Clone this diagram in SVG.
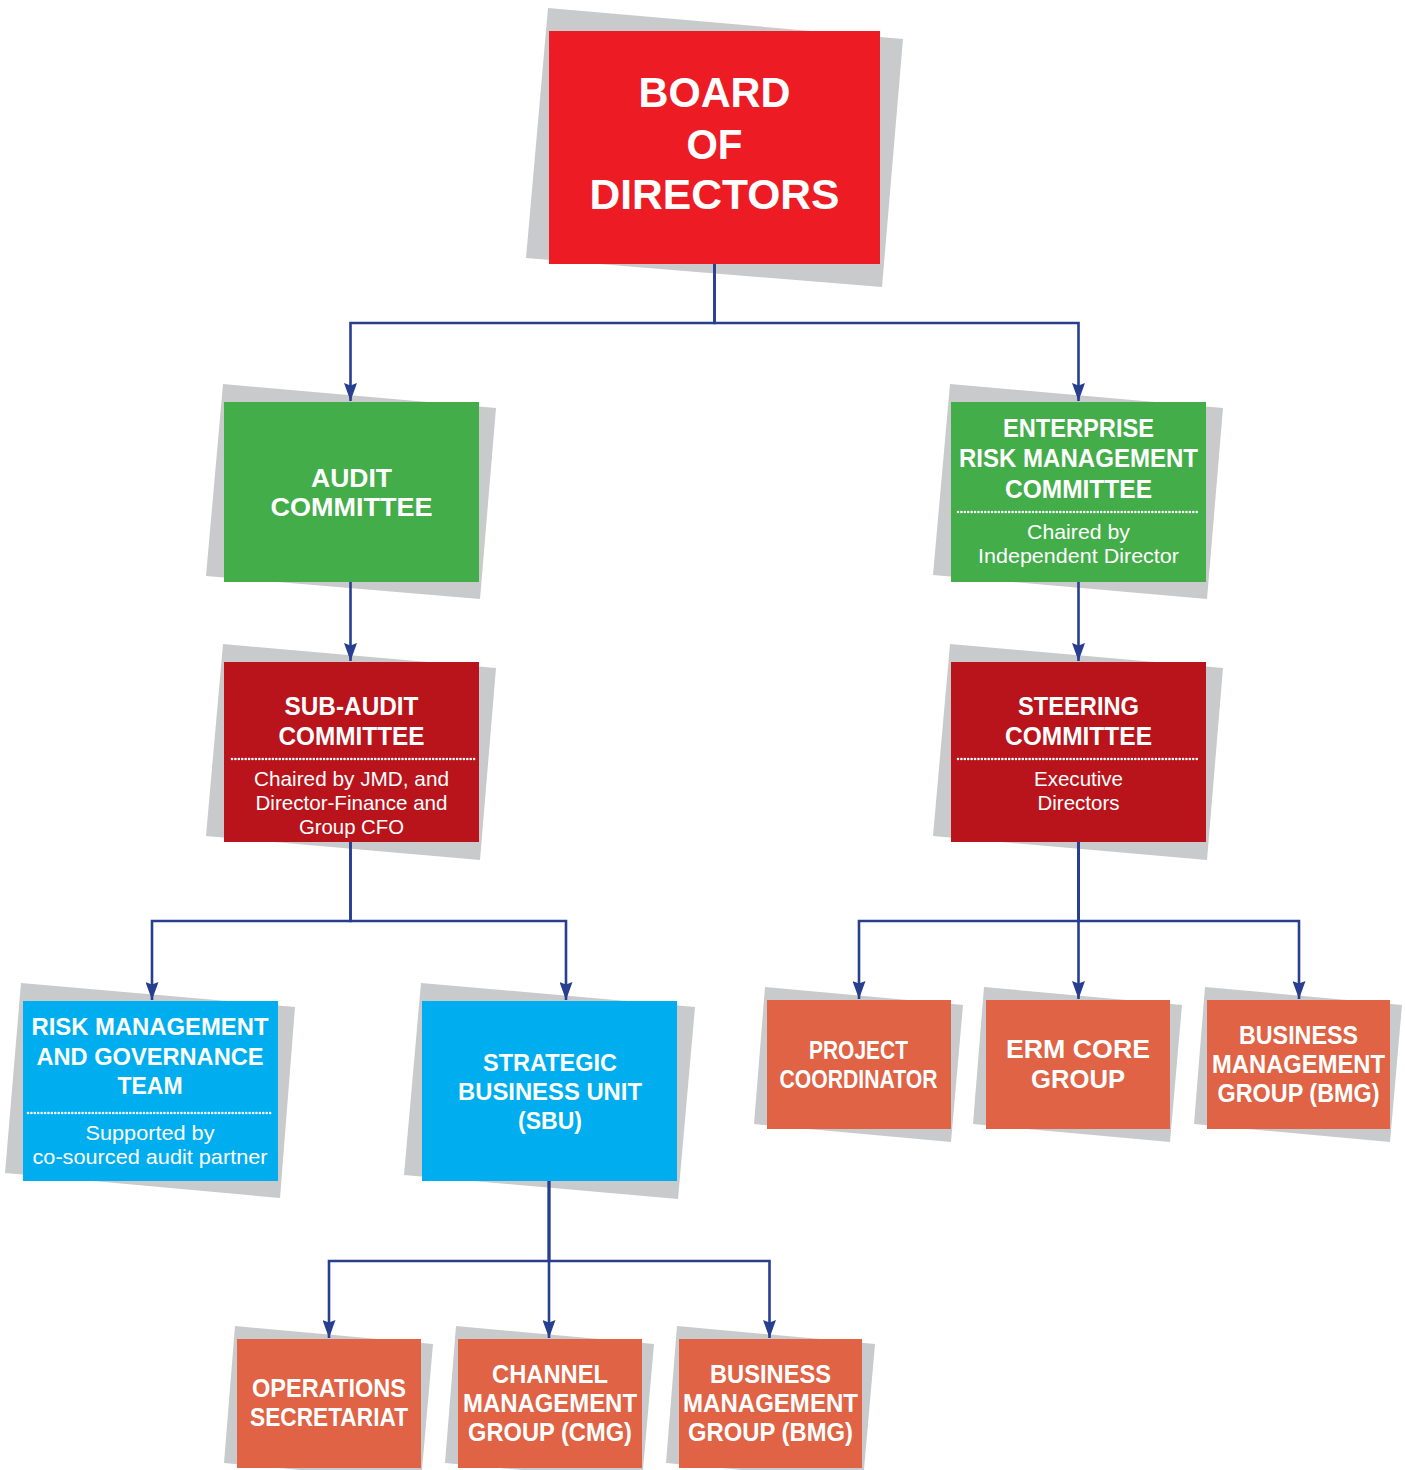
<svg xmlns="http://www.w3.org/2000/svg" width="1405" height="1470" viewBox="0 0 1405 1470">
<style>
.sh{fill:#c9cacc}
.red{fill:#ed1c24}.grn{fill:#43ad49}.dred{fill:#b9141b}.blu{fill:#00aeef}.org{fill:#df6344}
text{font-family:"Liberation Sans",Arial,sans-serif;fill:#fff;text-anchor:middle}
.b{font-weight:700}
.h42{font-size:42px}.h26{font-size:26px}.h25{font-size:25px}.h24{font-size:24px}
.s{font-size:21px;font-weight:400}
.dot{stroke:#fff;stroke-width:2.6;stroke-linecap:round;stroke-dasharray:0.01 3.4;fill:none}
.con path{fill:none;stroke:#283f90;stroke-width:2.6}
</style>
<defs>
<marker id="ah" markerUnits="userSpaceOnUse" markerWidth="18" markerHeight="13" viewBox="0 -6.5 18 13" refX="18" refY="0" orient="auto">
<path d="M0,-6.5 L18,0 L0,6.5 L2.5,0 z" fill="#283f90"/>
</marker>
</defs>

<g id="board">
<polygon class="sh" points="548,8 903,39 882,287 526,258"/>
<rect class="red" x="549" y="31" width="331" height="233"/>
<text class="b h42" x="714.5" y="107" textLength="152" lengthAdjust="spacingAndGlyphs">BOARD</text>
<text class="b h42" x="714.5" y="159" textLength="56" lengthAdjust="spacingAndGlyphs">OF</text>
<text class="b h42" x="714.5" y="209" textLength="250" lengthAdjust="spacingAndGlyphs">DIRECTORS</text>
</g>

<g id="audit">
<polygon class="sh" points="223,384 496,408 480,599 206,576"/>
<rect class="grn" x="224" y="402" width="255" height="180"/>
<text class="b h26" x="351.5" y="487" textLength="81" lengthAdjust="spacingAndGlyphs">AUDIT</text>
<text class="b h26" x="351.5" y="516" textLength="162" lengthAdjust="spacingAndGlyphs">COMMITTEE</text>
</g>

<g id="erm">
<polygon class="sh" points="950,384 1223,408 1207,599 933,575"/>
<rect class="grn" x="951" y="402" width="255" height="180"/>
<text class="b h25" x="1078.5" y="437" textLength="151" lengthAdjust="spacingAndGlyphs">ENTERPRISE</text>
<text class="b h25" x="1078.5" y="467" textLength="239" lengthAdjust="spacingAndGlyphs">RISK MANAGEMENT</text>
<text class="b h25" x="1078.5" y="498" textLength="147" lengthAdjust="spacingAndGlyphs">COMMITTEE</text>
<line class="dot" x1="958" y1="512" x2="1200" y2="512"/>
<text class="s" x="1078.5" y="539" textLength="103" lengthAdjust="spacingAndGlyphs">Chaired by</text>
<text class="s" x="1078.5" y="563" textLength="201" lengthAdjust="spacingAndGlyphs">Independent Director</text>
</g>

<g id="subaudit">
<polygon class="sh" points="223,644 496,668 480,860 206,836"/>
<rect class="dred" x="224" y="662" width="255" height="180"/>
<text class="b h25" x="351.5" y="715" textLength="134" lengthAdjust="spacingAndGlyphs">SUB-AUDIT</text>
<text class="b h25" x="351.5" y="745" textLength="146" lengthAdjust="spacingAndGlyphs">COMMITTEE</text>
<line class="dot" x1="232" y1="759" x2="475" y2="759"/>
<text class="s" x="351.5" y="786" textLength="195" lengthAdjust="spacingAndGlyphs">Chaired by JMD, and</text>
<text class="s" x="351.5" y="810" textLength="192" lengthAdjust="spacingAndGlyphs">Director-Finance and</text>
<text class="s" x="351.5" y="834" textLength="105" lengthAdjust="spacingAndGlyphs">Group CFO</text>
</g>

<g id="steering">
<polygon class="sh" points="950,644 1223,668 1207,860 933,836"/>
<rect class="dred" x="951" y="662" width="255" height="180"/>
<text class="b h25" x="1078.5" y="715" textLength="121" lengthAdjust="spacingAndGlyphs">STEERING</text>
<text class="b h25" x="1078.5" y="745" textLength="147" lengthAdjust="spacingAndGlyphs">COMMITTEE</text>
<line class="dot" x1="958" y1="759" x2="1200" y2="759"/>
<text class="s" x="1078.5" y="786" textLength="89" lengthAdjust="spacingAndGlyphs">Executive</text>
<text class="s" x="1078.5" y="810" textLength="82" lengthAdjust="spacingAndGlyphs">Directors</text>
</g>

<g id="riskteam">
<polygon class="sh" points="21,983 295,1007 280,1198 5,1173"/>
<rect class="blu" x="23" y="1001" width="255" height="180"/>
<text class="b h24" x="150" y="1035" textLength="237" lengthAdjust="spacingAndGlyphs">RISK MANAGEMENT</text>
<text class="b h24" x="150" y="1065" textLength="227" lengthAdjust="spacingAndGlyphs">AND GOVERNANCE</text>
<text class="b h24" x="150" y="1094" textLength="65" lengthAdjust="spacingAndGlyphs">TEAM</text>
<line class="dot" x1="28" y1="1113" x2="272" y2="1113"/>
<text class="s" x="150" y="1140" textLength="129" lengthAdjust="spacingAndGlyphs">Supported by</text>
<text class="s" x="150" y="1164" textLength="235" lengthAdjust="spacingAndGlyphs">co-sourced audit partner</text>
</g>

<g id="sbu">
<polygon class="sh" points="421,983 695,1007 678,1199 404,1175"/>
<rect class="blu" x="422" y="1001" width="255" height="180"/>
<text class="b h24" x="550" y="1071" textLength="134" lengthAdjust="spacingAndGlyphs">STRATEGIC</text>
<text class="b h24" x="550" y="1100" textLength="184" lengthAdjust="spacingAndGlyphs">BUSINESS UNIT</text>
<text class="b h24" x="550" y="1129" textLength="64" lengthAdjust="spacingAndGlyphs">(SBU)</text>
</g>

<g id="project">
<polygon class="sh" points="765,987 963,1005 951,1142 754,1124"/>
<rect class="org" x="767" y="1000" width="184" height="129"/>
<text class="b h25" x="858.5" y="1059" textLength="99" lengthAdjust="spacingAndGlyphs">PROJECT</text>
<text class="b h25" x="858.5" y="1088" textLength="158" lengthAdjust="spacingAndGlyphs">COORDINATOR</text>
</g>

<g id="ermcore">
<polygon class="sh" points="984,987 1182,1005 1170,1142 973,1124"/>
<rect class="org" x="986" y="1000" width="184" height="129"/>
<text class="b h25" x="1078" y="1058" textLength="144" lengthAdjust="spacingAndGlyphs">ERM CORE</text>
<text class="b h25" x="1078" y="1088" textLength="94" lengthAdjust="spacingAndGlyphs">GROUP</text>
</g>

<g id="bmg1">
<polygon class="sh" points="1205,987 1402,1005 1390,1142 1194,1124"/>
<rect class="org" x="1207" y="1000" width="183" height="129"/>
<text class="b h25" x="1298.5" y="1044" textLength="119" lengthAdjust="spacingAndGlyphs">BUSINESS</text>
<text class="b h25" x="1298.5" y="1073" textLength="173" lengthAdjust="spacingAndGlyphs">MANAGEMENT</text>
<text class="b h25" x="1298.5" y="1102" textLength="162" lengthAdjust="spacingAndGlyphs">GROUP (BMG)</text>
</g>

<g id="ops">
<polygon class="sh" points="235,1326 433,1344 421,1481 224,1463"/>
<rect class="org" x="237" y="1339" width="184" height="129"/>
<text class="b h25" x="329" y="1397" textLength="154" lengthAdjust="spacingAndGlyphs">OPERATIONS</text>
<text class="b h25" x="329" y="1426" textLength="158" lengthAdjust="spacingAndGlyphs">SECRETARIAT</text>
</g>

<g id="cmg">
<polygon class="sh" points="456,1326 654,1344 642,1481 445,1463"/>
<rect class="org" x="458" y="1339" width="184" height="129"/>
<text class="b h25" x="550" y="1383" textLength="116" lengthAdjust="spacingAndGlyphs">CHANNEL</text>
<text class="b h25" x="550" y="1412" textLength="174" lengthAdjust="spacingAndGlyphs">MANAGEMENT</text>
<text class="b h25" x="550" y="1441" textLength="164" lengthAdjust="spacingAndGlyphs">GROUP (CMG)</text>
</g>

<g id="bmg2">
<polygon class="sh" points="677,1326 875,1344 863,1481 666,1463"/>
<rect class="org" x="679" y="1339" width="183" height="129"/>
<text class="b h25" x="770.5" y="1383" textLength="121" lengthAdjust="spacingAndGlyphs">BUSINESS</text>
<text class="b h25" x="770.5" y="1412" textLength="175" lengthAdjust="spacingAndGlyphs">MANAGEMENT</text>
<text class="b h25" x="770.5" y="1441" textLength="165" lengthAdjust="spacingAndGlyphs">GROUP (BMG)</text>
</g>

<g id="connectors" class="con">
<path d="M714.5,264 V323 H350.5 V401" marker-end="url(#ah)"/>
<path d="M714.5,264 V323 H1078.5 V401" marker-end="url(#ah)"/>
<path d="M350.5,582 V661" marker-end="url(#ah)"/>
<path d="M1078.5,582 V661" marker-end="url(#ah)"/>
<path d="M350.5,842 V921 H152 V1000" marker-end="url(#ah)"/>
<path d="M350.5,842 V921 H566 V1000" marker-end="url(#ah)"/>
<path d="M1078.5,842 V921 H859 V999" marker-end="url(#ah)"/>
<path d="M1078.5,842 V999" marker-end="url(#ah)"/>
<path d="M1078.5,842 V921 H1299 V999" marker-end="url(#ah)"/>
<path d="M549,1181 V1261 H329 V1338" marker-end="url(#ah)"/>
<path d="M549,1181 V1338" marker-end="url(#ah)"/>
<path d="M549,1181 V1261 H769.5 V1338" marker-end="url(#ah)"/>
</g>
</svg>
